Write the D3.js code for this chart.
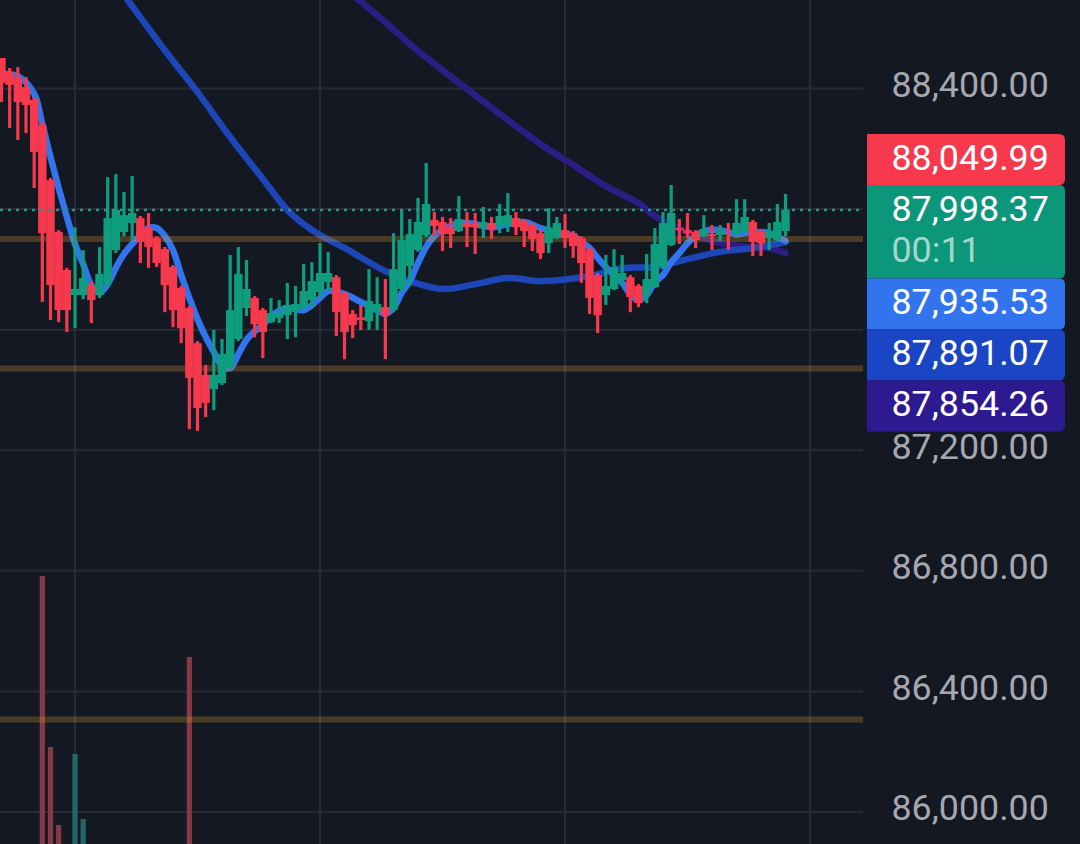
<!DOCTYPE html>
<html>
<head>
<meta charset="utf-8">
<script src="https://cdnjs.cloudflare.com/ajax/libs/d3/7.8.5/d3.min.js"></script>
<style>
  html, body { margin: 0; padding: 0; background: #141823; overflow: hidden; }
  svg { display: block; }
  text { font-family: Roboto, sans-serif; }
</style>
</head>
<body>
<script>
// candles, oldest first
var opens = [88501,88455,88435,88405,88362,88279,88096,87924,87798,87715,87715,87748,87715,87755,87864,87924,87954,87970,87937,87904,87867,87808,87738,87672,87555,87450,87403,87423,87473,87569,87672,87705,87665,87625,87638,87648,87658,87672,87698,87725,87758,87774,87718,87652,87641,87628,87658,87675,87665,87735,87811,87864,87914,87964,87957,87937,87927,87954,87950,87937,87954,87947,87947,87970,87957,87944,87920,87887,87904,87930,87920,87904,87864,87781,87715,87735,87765,87774,87745,87715,87741,87808,87881,87937,87930,87924,87910,87917,87914,87920,87920,87924,87957,87924,87904,87897,87927];
var closes = [88418,88412,88355,88345,88189,87920,87748,87665,87665,87735,87771,87698,87785,87970,87997,87980,87987,87891,87874,87821,87748,87665,87605,87440,87340,87357,87450,87519,87665,87785,87735,87618,87592,87655,87655,87682,87685,87728,87761,87788,87788,87658,87592,87615,87632,87695,87685,87648,87801,87897,87917,87957,88017,87944,87917,87917,87967,87940,87940,87957,87934,87977,87980,87940,87927,87901,87854,87937,87954,87904,87877,87821,87705,87648,87745,87808,87788,87708,87688,87768,87884,87954,87987,87930,87920,87897,87934,87910,87930,87917,87954,87974,87891,87887,87927,87957,87998.37];
var highs = [88501,88468,88471,88438,88372,88289,88103,87930,87805,87940,87864,87758,87874,88106,88116,88057,88110,87977,87987,87910,87874,87814,87745,87678,87562,87483,87599,87569,87848,87874,87831,87711,87672,87705,87698,87755,87745,87818,87824,87887,87858,87781,87725,87665,87682,87801,87774,87768,87920,87997,87967,88037,88153,87990,87974,87970,88043,87990,87987,88007,87974,88017,88053,87990,87964,87954,87930,88003,87974,87983,87927,87910,87871,87788,87848,87867,87848,87781,87751,87851,87937,87990,88080,87967,87987,87930,87980,87947,87947,87954,88033,88033,87964,87930,87954,88017,88050];
var lows = [88355,88269,88229,88252,88070,87692,87632,87625,87592,87605,87701,87622,87705,87741,87854,87910,87897,87821,87805,87808,87658,87608,87555,87270,87264,87310,87333,87416,87466,87562,87645,87575,87506,87622,87622,87569,87575,87665,87675,87705,87725,87579,87502,87572,87599,87599,87599,87502,87658,87728,87748,87858,87907,87914,87861,87871,87924,87874,87851,87904,87901,87920,87924,87914,87874,87861,87834,87854,87901,87871,87838,87755,87652,87589,87682,87731,87748,87658,87675,87688,87738,87801,87877,87884,87904,87871,87907,87864,87894,87864,87904,87920,87844,87844,87864,87894,87910];

// volume, only the bars tall enough to show
var volumeIndex = [5,6,7,9,10,23];
var volumeValues = [268,97,19,90,25,187];
var volumeUp = [false,false,false,true,true,false];

// moving averages, read at these candle numbers
var fastIndex = [0,2,4,5,6,7,8,9,10,11,12,13,14,15,16,17,18,19,20,21,22,23,24,25,26,27,28,29,30,31,32,33,35,37,39,40,42,44,46,47,48,49,50,51,52,53,54,56,58,60,62,64,66,68,70,71,72,73,74,75,76,77,78,79,80,81,82,83,84,85,86,88,90,92,94,96];
var fastValues = [88448,88441,88382,88282,88173,88070,87974,87884,87818,87748,87722,87751,87805,87851,87884,87914,87937,87937,87911,87864,87781,87705,87635,87576,87526,87479,87473,87519,87566,87595,87615,87645,87672,87665,87705,87728,87718,87692,87665,87652,87672,87722,87761,87821,87874,87911,87930,87954,87950,87940,87950,87957,87937,87924,87911,87891,87871,87838,87808,87781,87755,87718,87698,87715,87758,87781,87824,87854,87887,87911,87927,87930,87917,87924,87920,87894];
var midIndex = [15,20,24,28,32,35,37,39,42,47,50,54,58,62,66,72,76,80,84,88,92,96];
var midValues = [88710,88527,88388,88239,88100,87997,87950,87914,87871,87794,87761,87735,87751,87771,87761,87778,87804,87808,87834,87858,87871,87891];
var slowIndex = [43,47,50,54,58,62,66,70,74,78,80,84,88,92,94,96];
var slowValues = [88710,88620,88547,88461,88378,88295,88216,88146,88076,88020,87977,87924,87887,87874,87871,87854];

var priceTicks = [88400,88000,87600,87200,86800,86400,86000];
var labelTicks = [88400,87200,86800,86400,86000];
var timeTicks = [9,39,69,99];
var levels = [87901,87471,86307];
var lastPrice = 87998.37;

var tagLabels = [["88,049.99"],["87,998.37","00:11"],["87,935.53"],["87,891.07"],["87,854.26"]];
var tagColors = ["#f7394d","#0c967a","#3274ee","#1a45c4","#2e1a90"];

var red = "#f7394d", green = "#0f9d7f";
var width = 1080, height = 844, plotRight = 863;

var svg = d3.select("body").append("svg").attr("width", width).attr("height", height);
svg.append("rect").attr("width", width).attr("height", height).attr("fill", "#141823");

var x = d3.scaleLinear().domain([9, 99]).range([75, 810]);
var y = d3.scaleLinear().domain([86000, 88400]).range([812, 88.5]);
var volY = d3.scaleLinear().domain([0, 300]).range([844, 544]);

// grid
svg.append("g").selectAll("line").data(priceTicks).enter().append("line")
  .attr("x1", 0).attr("x2", plotRight)
  .attr("y1", function(d){ return y(d); }).attr("y2", function(d){ return y(d); })
  .attr("stroke", "#282b35").attr("stroke-width", 2);
svg.append("g").selectAll("line").data(timeTicks).enter().append("line")
  .attr("x1", function(d){ return x(d); }).attr("x2", function(d){ return x(d); })
  .attr("y1", 0).attr("y2", height)
  .attr("stroke", "#282b35").attr("stroke-width", 2);

// volume
svg.append("g").selectAll("rect").data(volumeIndex).enter().append("rect")
  .attr("x", function(d){ return x(d) - 2.6; })
  .attr("width", 5.2)
  .attr("y", function(d, i){ return volY(volumeValues[i]); })
  .attr("height", function(d, i){ return height - volY(volumeValues[i]); })
  .attr("fill", function(d, i){ return volumeUp[i] ? "#246668" : "#843a45"; });

// moving averages
function drawAverage(index, values, color) {
  var line = d3.line()
    .x(function(d){ return x(d); })
    .y(function(d, i){ return y(values[i]); })
    .curve(d3.curveCatmullRom.alpha(0.5));
  svg.append("path").datum(index)
    .attr("d", line)
    .attr("fill", "none")
    .attr("stroke", color)
    .attr("stroke-width", 6.5)
    .attr("stroke-linecap", "round");
}
drawAverage(slowIndex, slowValues, "#2c1d85");
drawAverage(midIndex, midValues, "#1d46b8");
drawAverage(fastIndex, fastValues, "#3274ee");

// support / resistance levels
svg.append("g").selectAll("line").data(levels).enter().append("line")
  .attr("x1", 0).attr("x2", plotRight)
  .attr("y1", function(d){ return y(d); }).attr("y2", function(d){ return y(d); })
  .attr("stroke", "rgba(240,160,40,0.25)").attr("stroke-width", 6);

// candles
var candles = svg.append("g").selectAll("g").data(opens).enter().append("g");
candles.append("rect")
  .attr("x", function(d, i){ return x(i) - 1.6; })
  .attr("width", 3.2)
  .attr("y", function(d, i){ return y(highs[i]); })
  .attr("height", function(d, i){ return y(lows[i]) - y(highs[i]); })
  .attr("fill", function(d, i){ return closes[i] >= d ? green : red; });
candles.append("rect")
  .attr("x", function(d, i){ return x(i) - 4.2; })
  .attr("width", 8.4)
  .attr("y", function(d, i){ return y(Math.max(d, closes[i])); })
  .attr("height", function(d, i){ return Math.abs(y(d) - y(closes[i])); })
  .attr("fill", function(d, i){ return closes[i] >= d ? green : red; });

// last price line
svg.append("line")
  .attr("x1", 0).attr("x2", plotRight)
  .attr("y1", y(lastPrice) + 0.5).attr("y2", y(lastPrice) + 0.5)
  .attr("stroke", "#2a9384").attr("stroke-width", 2.4)
  .attr("stroke-dasharray", "3 5");

// price axis
var axis = d3.axisRight(y)
  .tickValues(labelTicks)
  .tickSize(0)
  .tickPadding(0)
  .tickFormat(d3.format(",.2f"));
var axisG = svg.append("g").attr("transform", "translate(891.5,-3.5)").call(axis);
axisG.select(".domain").remove();
axisG.selectAll("text")
  .attr("fill", "#a6a8af")
  .style("font-family", "Roboto, sans-serif")
  .style("font-size", "35.8px");

// price tags stacked on the axis
var tagY = 134;
tagLabels.forEach(function(lines, n){
  var h = lines.length > 1 ? 93.5 : 51;
  var r = 6, l = 867, w = 198;
  svg.append("path")
    .attr("d", "M" + l + "," + tagY + "H" + (l + w - r) + "q" + r + ",0 " + r + "," + r +
      "V" + (tagY + h - r) + "q0," + r + " " + -r + "," + r + "H" + l + "Z")
    .attr("fill", tagColors[n]);
  lines.forEach(function(t, k){
    svg.append("text")
      .attr("x", 891.5)
      .attr("y", tagY + 23 + k * 41)
      .attr("dy", "0.36em")
      .attr("fill", "#fff")
      .attr("fill-opacity", k === 0 ? 1 : 0.65)
      .style("font-size", "35.8px")
      .text(t);
  });
  tagY += h;
});
</script>
</body>
</html>
